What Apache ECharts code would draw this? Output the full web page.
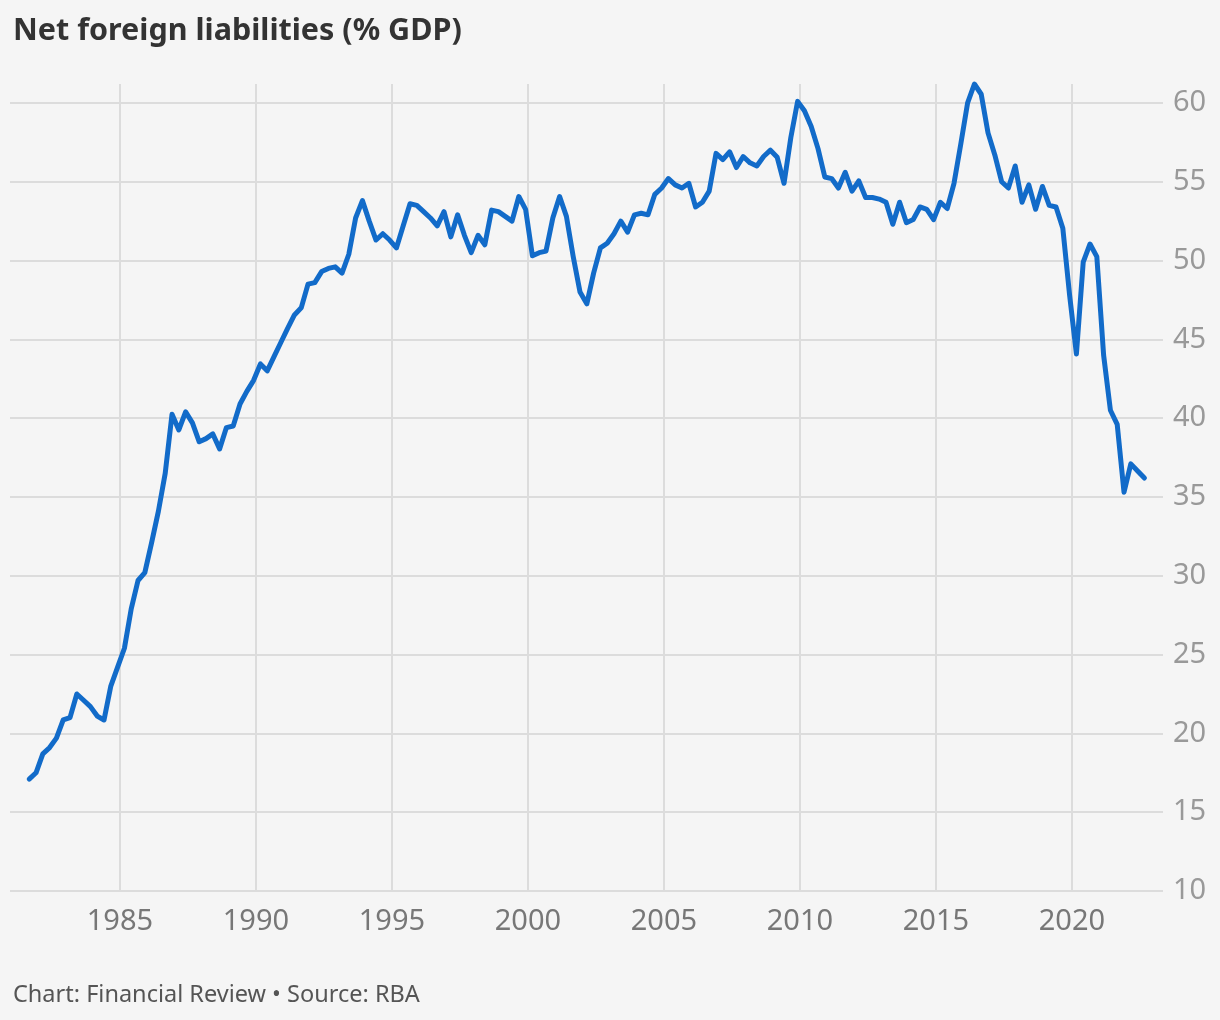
<!DOCTYPE html>
<html>
<head>
<meta charset="utf-8">
<script src="https://cdn.jsdelivr.net/npm/echarts@6/dist/echarts.min.js"></script>
<style>
  html, body { margin: 0; padding: 0; background: #f5f5f5; }
  #chart { width: 1220px; height: 1020px; }
</style>
</head>
<body>
<div id="chart"></div>
<script>
// Quarterly observations, first one Sep 1981, last one Sep 2022
const startYear = 1981;
const startMonth = 9;
const netForeignLiabilities = [
  17.1, 17.5, 18.7, 19.1, 19.7, 20.85, 21.0, 22.5, 22.1, 21.7,
  21.1, 20.85, 23.0, 24.2, 25.4, 27.9, 29.7, 30.2, 32.1, 34.1,
  36.5, 40.25, 39.25, 40.4, 39.7, 38.5, 38.7, 39.0, 38.05, 39.4,
  39.5, 40.9, 41.7, 42.4, 43.44, 43.0, 43.9, 44.8, 45.7, 46.55,
  47.0, 48.5, 48.6, 49.3, 49.5, 49.6, 49.2, 50.4, 52.7, 53.8,
  52.5, 51.3, 51.7, 51.3, 50.8, 52.2, 53.6, 53.5, 53.1, 52.7,
  52.2, 53.1, 51.5, 52.9, 51.6, 50.5, 51.6, 51.0, 53.2, 53.1,
  52.8, 52.5, 54.06, 53.25, 50.3, 50.5, 50.6, 52.7, 54.06, 52.8,
  50.25, 48.0, 47.25, 49.2, 50.8, 51.1, 51.7, 52.5, 51.8, 52.9,
  53.0, 52.9, 54.2, 54.6, 55.2, 54.8, 54.6, 54.9, 53.4, 53.7,
  54.4, 56.8, 56.4, 56.9, 55.9, 56.6, 56.2, 56.0, 56.6, 57.0,
  56.55, 54.9, 57.8, 60.1, 59.5, 58.5, 57.1, 55.3, 55.2, 54.6,
  55.6, 54.4, 55.05, 54.0, 54.0, 53.9, 53.7, 52.3, 53.7, 52.4,
  52.6, 53.4, 53.25, 52.6, 53.7, 53.3, 54.9, 57.4, 60.0, 61.2,
  60.55, 58.1, 56.7, 55.0, 54.6, 56.0, 53.7, 54.8, 53.25, 54.7,
  53.5, 53.4, 52.05, 47.8, 44.07, 49.9, 51.05, 50.25, 44.0, 40.5,
  39.6, 35.3, 37.1, 36.65, 36.2
];
const xTickYears = [1985, 1990, 1995, 2000, 2005, 2010, 2015, 2020];
const yTickValues = [10, 15, 20, 25, 30, 35, 40, 45, 50, 55, 60];

const titleText = 'Net foreign liabilities (% GDP)';
const footerText = 'Chart: Financial Review \u2022 Source: RBA';

// decimal-year position of each quarterly observation
const seriesData = netForeignLiabilities.map(function (v, i) {
  const m = startMonth - 1 + i * 3;
  const yr = startYear + Math.floor(m / 12);
  const mo = m % 12;
  return [yr + mo / 12, v];
});

const FONT = '"Noto Sans", "Open Sans", sans-serif';

const chart = echarts.init(document.getElementById('chart'), null, { renderer: 'canvas' });
chart.setOption({
  backgroundColor: '#f5f5f5',
  animation: false,
  title: [
    {
      text: titleText,
      left: 8,
      top: 11,
      textStyle: { fontFamily: FONT, fontSize: 30.5, fontWeight: 'bold', color: '#333333' }
    },
    {
      text: footerText,
      left: 8,
      top: 978,
      textStyle: { fontFamily: FONT, fontSize: 23.5, fontWeight: 'normal', color: '#555555' }
    }
  ],
  grid: { left: 10, right: 57, top: 84, bottom: 129, containLabel: false },
  xAxis: {
    type: 'value',
    min: 1980.96,
    max: 2023.35,
    axisLine: { show: false },
    axisTick: { show: false, customValues: xTickYears },
    axisLabel: {
      customValues: xTickYears,
      margin: 16,
      fontFamily: FONT,
      fontSize: 29,
      color: '#777777',
      formatter: function (v) { return String(v); }
    },
    splitLine: { show: true, lineStyle: { color: '#dcdcdc', width: 2 } }
  },
  yAxis: {
    type: 'value',
    position: 'right',
    min: 10,
    max: 61.2,
    axisLine: { show: false },
    axisTick: { show: false, customValues: yTickValues },
    axisLabel: {
      customValues: yTickValues,
      margin: 10,
      fontFamily: FONT,
      fontSize: 29,
      color: '#999999'
    },
    splitLine: { show: true, lineStyle: { color: '#dcdcdc', width: 2 } }
  },
  series: [{
    type: 'line',
    data: seriesData,
    showSymbol: false,
    symbol: 'none',
    clip: false,
    lineStyle: { color: '#126bc9', width: 5, join: 'round', cap: 'round' }
  }]
});
</script>
</body>
</html>
